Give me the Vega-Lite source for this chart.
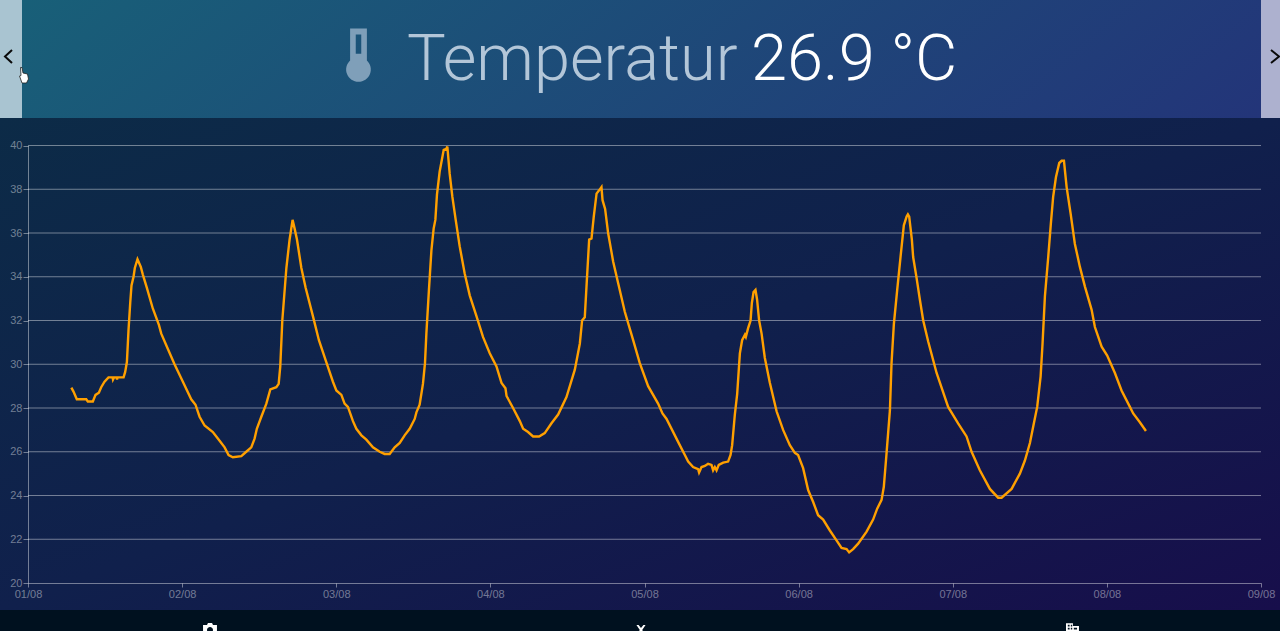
{
"$schema":"https://vega.github.io/schema/vega-lite/v6.json",
"padding":0,"background":"#00111f","autosize":{"type":"pad"},
"config":{"view":{"stroke":null},"font":"Liberation Sans"},
"spacing":0,"bounds":"flat",
"datasets":{"temps":[
{"time":"2018-08-01T06:45","t":28.93},{"time":"2018-08-01T07:05","t":28.75},{"time":"2018-08-01T07:36","t":28.4},{"time":"2018-08-01T09:04","t":28.4},{"time":"2018-08-01T09:19","t":28.3},{"time":"2018-08-01T10:06","t":28.3},{"time":"2018-08-01T10:31","t":28.6},{"time":"2018-08-01T11:02","t":28.7},{"time":"2018-08-01T11:24","t":28.95},{"time":"2018-08-01T11:55","t":29.2},{"time":"2018-08-01T12:32","t":29.4},{"time":"2018-08-01T13:10","t":29.4},{"time":"2018-08-01T13:14","t":29.3},{"time":"2018-08-01T13:24","t":29.4},{"time":"2018-08-01T13:47","t":29.4},{"time":"2018-08-01T13:52","t":29.3},{"time":"2018-08-01T13:56","t":29.4},{"time":"2018-08-01T14:53","t":29.4},{"time":"2018-08-01T15:08","t":29.65},{"time":"2018-08-01T15:24","t":30.1},{"time":"2018-08-01T15:39","t":31.55},{"time":"2018-08-01T15:55","t":32.8},{"time":"2018-08-01T16:07","t":33.6},{"time":"2018-08-01T16:26","t":34},{"time":"2018-08-01T16:38","t":34.4},{"time":"2018-08-01T17:03","t":34.8},{"time":"2018-08-01T17:34","t":34.45},{"time":"2018-08-01T17:53","t":34.1},{"time":"2018-08-01T18:30","t":33.5},{"time":"2018-08-01T19:26","t":32.55},{"time":"2018-08-01T20:23","t":31.8},{"time":"2018-08-01T20:45","t":31.4},{"time":"2018-08-01T21:47","t":30.7},{"time":"2018-08-01T22:49","t":30},
{"time":"2018-08-02T00:07","t":29.2},{"time":"2018-08-02T01:25","t":28.4},{"time":"2018-08-02T02:05","t":28.15},{"time":"2018-08-02T02:43","t":27.6},{"time":"2018-08-02T03:30","t":27.2},{"time":"2018-08-02T04:47","t":26.9},{"time":"2018-08-02T05:50","t":26.5},{"time":"2018-08-02T06:37","t":26.2},{"time":"2018-08-02T07:14","t":25.85},{"time":"2018-08-02T07:54","t":25.75},{"time":"2018-08-02T09:13","t":25.8},{"time":"2018-08-02T09:59","t":26},{"time":"2018-08-02T10:46","t":26.2},{"time":"2018-08-02T11:17","t":26.6},{"time":"2018-08-02T11:38","t":27.05},{"time":"2018-08-02T12:20","t":27.6},{"time":"2018-08-02T13:07","t":28.2},{"time":"2018-08-02T13:44","t":28.85},{"time":"2018-08-02T14:40","t":28.95},{"time":"2018-08-02T15:02","t":29.1},{"time":"2018-08-02T15:17","t":29.9},{"time":"2018-08-02T15:36","t":32},{"time":"2018-08-02T16:14","t":34.4},{"time":"2018-08-02T16:44","t":35.7},{"time":"2018-08-02T17:12","t":36.6},{"time":"2018-08-02T17:31","t":36.2},{"time":"2018-08-02T17:53","t":35.7},{"time":"2018-08-02T18:34","t":34.4},{"time":"2018-08-02T19:14","t":33.5},{"time":"2018-08-02T20:22","t":32.2},{"time":"2018-08-02T21:18","t":31.1},{"time":"2018-08-02T22:27","t":30.1},{"time":"2018-08-02T23:29","t":29.2},
{"time":"2018-08-03T00:01","t":28.8},{"time":"2018-08-03T00:48","t":28.6},{"time":"2018-08-03T01:18","t":28.2},{"time":"2018-08-03T01:49","t":28.05},{"time":"2018-08-03T02:36","t":27.4},{"time":"2018-08-03T03:08","t":27.05},{"time":"2018-08-03T03:55","t":26.75},{"time":"2018-08-03T04:41","t":26.55},{"time":"2018-08-03T05:43","t":26.2},{"time":"2018-08-03T06:46","t":26},{"time":"2018-08-03T07:32","t":25.9},{"time":"2018-08-03T08:19","t":25.9},{"time":"2018-08-03T09:06","t":26.2},{"time":"2018-08-03T09:53","t":26.4},{"time":"2018-08-03T10:39","t":26.75},{"time":"2018-08-03T11:26","t":27.05},{"time":"2018-08-03T12:13","t":27.5},{"time":"2018-08-03T12:29","t":27.8},{"time":"2018-08-03T12:59","t":28.15},{"time":"2018-08-03T13:30","t":29.1},{"time":"2018-08-03T13:49","t":30.05},{"time":"2018-08-03T14:02","t":31.4},{"time":"2018-08-03T14:26","t":33.4},{"time":"2018-08-03T14:49","t":35.2},{"time":"2018-08-03T15:10","t":36.2},{"time":"2018-08-03T15:26","t":36.6},{"time":"2018-08-03T15:41","t":37.75},{"time":"2018-08-03T16:06","t":38.8},{"time":"2018-08-03T16:44","t":39.8},{"time":"2018-08-03T17:09","t":39.85},{"time":"2018-08-03T17:18","t":39.95},{"time":"2018-08-03T17:40","t":38.7},{"time":"2018-08-03T18:05","t":37.65},{"time":"2018-08-03T18:36","t":36.6},{"time":"2018-08-03T19:13","t":35.4},{"time":"2018-08-03T20:00","t":34.15},{"time":"2018-08-03T20:47","t":33.15},{"time":"2018-08-03T21:50","t":32.2},{"time":"2018-08-03T22:51","t":31.25},{"time":"2018-08-03T23:54","t":30.5},
{"time":"2018-08-04T00:57","t":29.9},{"time":"2018-08-04T01:44","t":29.15},{"time":"2018-08-04T02:21","t":28.9},{"time":"2018-08-04T02:31","t":28.55},{"time":"2018-08-04T03:32","t":28},{"time":"2018-08-04T04:35","t":27.4},{"time":"2018-08-04T05:06","t":27.05},{"time":"2018-08-04T05:52","t":26.9},{"time":"2018-08-04T06:39","t":26.7},{"time":"2018-08-04T07:35","t":26.7},{"time":"2018-08-04T08:28","t":26.85},{"time":"2018-08-04T09:31","t":27.3},{"time":"2018-08-04T10:33","t":27.7},{"time":"2018-08-04T11:51","t":28.5},{"time":"2018-08-04T13:09","t":29.75},{"time":"2018-08-04T13:56","t":30.95},{"time":"2018-08-04T14:17","t":32},{"time":"2018-08-04T14:42","t":32.15},{"time":"2018-08-04T14:58","t":33.55},{"time":"2018-08-04T15:23","t":35.7},{"time":"2018-08-04T15:45","t":35.75},{"time":"2018-08-04T16:06","t":36.75},{"time":"2018-08-04T16:32","t":37.8},{"time":"2018-08-04T16:56","t":37.95},{"time":"2018-08-04T17:18","t":38.1},{"time":"2018-08-04T17:28","t":37.5},{"time":"2018-08-04T17:52","t":37.1},{"time":"2018-08-04T18:20","t":36},{"time":"2018-08-04T19:07","t":34.7},{"time":"2018-08-04T19:54","t":33.7},{"time":"2018-08-04T20:56","t":32.4},{"time":"2018-08-04T22:14","t":31.1},{"time":"2018-08-04T23:16","t":30.05},
{"time":"2018-08-05T00:34","t":29},{"time":"2018-08-05T02:07","t":28.2},{"time":"2018-08-05T02:48","t":27.75},{"time":"2018-08-05T03:26","t":27.5},{"time":"2018-08-05T05:14","t":26.45},{"time":"2018-08-05T06:17","t":25.85},{"time":"2018-08-05T06:48","t":25.55},{"time":"2018-08-05T07:34","t":25.3},{"time":"2018-08-05T08:21","t":25.2},{"time":"2018-08-05T08:30","t":25.05},{"time":"2018-08-05T08:53","t":25.3},{"time":"2018-08-05T09:24","t":25.35},{"time":"2018-08-05T09:54","t":25.45},{"time":"2018-08-05T10:26","t":25.4},{"time":"2018-08-05T10:41","t":25.15},{"time":"2018-08-05T10:57","t":25.3},{"time":"2018-08-05T11:13","t":25.15},{"time":"2018-08-05T11:34","t":25.4},{"time":"2018-08-05T12:15","t":25.5},{"time":"2018-08-05T13:01","t":25.55},{"time":"2018-08-05T13:24","t":25.85},{"time":"2018-08-05T13:39","t":26.3},{"time":"2018-08-05T14:04","t":27.7},{"time":"2018-08-05T14:26","t":28.65},{"time":"2018-08-05T14:51","t":30.5},{"time":"2018-08-05T15:12","t":31.1},{"time":"2018-08-05T15:38","t":31.35},{"time":"2018-08-05T15:47","t":31.25},{"time":"2018-08-05T16:08","t":31.65},{"time":"2018-08-05T16:31","t":32},{"time":"2018-08-05T16:43","t":32.8},{"time":"2018-08-05T16:59","t":33.3},{"time":"2018-08-05T17:17","t":33.4},{"time":"2018-08-05T17:32","t":32.95},{"time":"2018-08-05T17:51","t":32},{"time":"2018-08-05T18:14","t":31.4},{"time":"2018-08-05T18:44","t":30.3},{"time":"2018-08-05T19:31","t":29.15},{"time":"2018-08-05T20:34","t":27.85},{"time":"2018-08-05T21:35","t":27},{"time":"2018-08-05T22:38","t":26.3},{"time":"2018-08-05T23:25","t":25.95},{"time":"2018-08-05T23:55","t":25.85},
{"time":"2018-08-06T00:42","t":25.25},{"time":"2018-08-06T01:29","t":24.25},{"time":"2018-08-06T02:16","t":23.7},{"time":"2018-08-06T03:02","t":23.1},{"time":"2018-08-06T03:49","t":22.9},{"time":"2018-08-06T04:52","t":22.4},{"time":"2018-08-06T05:54","t":21.95},{"time":"2018-08-06T06:41","t":21.6},{"time":"2018-08-06T07:28","t":21.55},{"time":"2018-08-06T07:52","t":21.4},{"time":"2018-08-06T08:29","t":21.55},{"time":"2018-08-06T09:16","t":21.8},{"time":"2018-08-06T10:35","t":22.35},{"time":"2018-08-06T11:36","t":22.9},{"time":"2018-08-06T12:14","t":23.4},{"time":"2018-08-06T12:55","t":23.8},{"time":"2018-08-06T13:16","t":24.4},{"time":"2018-08-06T13:41","t":25.9},{"time":"2018-08-06T14:13","t":27.9},{"time":"2018-08-06T14:28","t":30.05},{"time":"2018-08-06T14:50","t":31.85},{"time":"2018-08-06T15:21","t":33.4},{"time":"2018-08-06T15:52","t":34.9},{"time":"2018-08-06T16:23","t":36.35},{"time":"2018-08-06T16:49","t":36.75},{"time":"2018-08-06T17:01","t":36.85},{"time":"2018-08-06T17:13","t":36.75},{"time":"2018-08-06T17:38","t":35.7},{"time":"2018-08-06T17:50","t":34.9},{"time":"2018-08-06T18:22","t":33.95},{"time":"2018-08-06T18:53","t":32.95},{"time":"2018-08-06T19:24","t":32},{"time":"2018-08-06T20:10","t":31.05},{"time":"2018-08-06T21:29","t":29.6},{"time":"2018-08-06T23:17","t":28.05},
{"time":"2018-08-07T00:50","t":27.3},{"time":"2018-08-07T02:09","t":26.7},{"time":"2018-08-07T02:56","t":26},{"time":"2018-08-07T04:13","t":25.15},{"time":"2018-08-07T05:47","t":24.3},{"time":"2018-08-07T07:04","t":23.9},{"time":"2018-08-07T07:36","t":23.9},{"time":"2018-08-07T09:10","t":24.3},{"time":"2018-08-07T10:27","t":25},{"time":"2018-08-07T11:14","t":25.6},{"time":"2018-08-07T12:01","t":26.4},{"time":"2018-08-07T12:38","t":27.3},{"time":"2018-08-07T13:09","t":28.05},{"time":"2018-08-07T13:41","t":29.45},{"time":"2018-08-07T13:59","t":30.95},{"time":"2018-08-07T14:21","t":33.1},{"time":"2018-08-07T14:52","t":34.9},{"time":"2018-08-07T15:17","t":36.45},{"time":"2018-08-07T15:38","t":37.65},{"time":"2018-08-07T16:04","t":38.55},{"time":"2018-08-07T16:35","t":39.2},{"time":"2018-08-07T16:57","t":39.3},{"time":"2018-08-07T17:19","t":39.3},{"time":"2018-08-07T17:44","t":38.1},{"time":"2018-08-07T18:21","t":36.9},{"time":"2018-08-07T19:01","t":35.5},{"time":"2018-08-07T19:48","t":34.45},{"time":"2018-08-07T20:35","t":33.55},{"time":"2018-08-07T21:37","t":32.5},{"time":"2018-08-07T22:08","t":31.7},{"time":"2018-08-07T23:11","t":30.8},
{"time":"2018-08-08T00:03","t":30.4},{"time":"2018-08-08T01:15","t":29.6},{"time":"2018-08-08T02:17","t":28.8},{"time":"2018-08-08T03:35","t":28.05},{"time":"2018-08-08T04:06","t":27.75},{"time":"2018-08-08T05:08","t":27.35},{"time":"2018-08-08T06:05","t":26.95}
]},
"vconcat":[
{"width":1280,"height":118,
 "view":{"stroke":null,"fill":{"gradient":"linear","x1":0,"y1":0,"x2":1.0976,"y2":0.122,"stops":[{"offset":0,"color":"#186078"},{"offset":1,"color":"#233479"}]}},
 "layer":[
  {"data":{"values":[{"item":"prev"}]},"mark":{"type":"rect","fill":"#a9c4d1"},
   "encoding":{"x":{"field":"item","type":"nominal","axis":null,"scale":{"type":"band","domain":["prev"],"range":[0,22],"padding":0}}}},
  {"data":{"values":[{"item":"next"}]},"mark":{"type":"rect","fill":"#adb1cf"},
   "encoding":{"x":{"field":"item","type":"nominal","axis":null,"scale":{"type":"band","domain":["next"],"range":[1261,1280],"padding":0}}}},
  {"data":{"values":[{"item":"prev"}]},
   "mark":{"type":"point","shape":"M0.1,-0.9 L-0.6,-0.25 L0.1,0.4","size":400,"filled":false,"stroke":"#0a0a0a","strokeWidth":2,"opacity":1},
   "encoding":{"x":{"field":"item","type":"nominal","axis":null,"scale":{"domain":["prev"],"range":[11,11],"padding":0}}}},
  {"data":{"values":[{"item":"next"}]},
   "mark":{"type":"point","clip":true,"shape":"M0.05,-0.9 L0.85,-0.25 L0.05,0.4","size":400,"filled":false,"stroke":"#0a0a0a","strokeWidth":2,"opacity":1},
   "encoding":{"x":{"field":"item","type":"nominal","axis":null,"scale":{"domain":["next"],"range":[1270.5,1270.5],"padding":0}}}},
  {"data":{"values":[{"item":"icon"}]},
   "mark":{"type":"point","shape":"M-0.305,-1 H0.305 V0.16 A0.448,0.448 0 1 1 -0.305,0.16 Z M-0.1,-0.78 V-0.08 H0.1 V-0.78 Z","size":3025,"filled":true,"fill":"#7f9fb9","stroke":null,"opacity":1},
   "encoding":{"x":{"field":"item","type":"nominal","axis":null,"scale":{"domain":["icon"],"range":[358.5,358.5],"padding":0}},
               "y":{"field":"item","type":"nominal","axis":null,"scale":{"domain":["icon"],"range":[56,56],"padding":0}}}},
  {"data":{"values":[{"item":"Temperatur"},{"item":"26.9 °C"}]},
   "mark":{"type":"text","font":"Roboto","fontWeight":300,"fontSize":65,"align":"left","baseline":"alphabetic"},
   "encoding":{"text":{"field":"item","type":"nominal"},
               "x":{"field":"item","type":"nominal","axis":null,"scale":{"domain":["Temperatur","26.9 °C"],"range":[407,751],"padding":0}},
               "y":{"field":"item","type":"nominal","axis":null,"scale":{"domain":["Temperatur","26.9 °C"],"range":[79.5,79.5],"padding":0}},
               "color":{"field":"item","type":"nominal","legend":null,"scale":{"domain":["Temperatur","26.9 °C"],"range":["#b3c6d8","#ffffff"]}}}},
  {"data":{"values":[{"item":"cursor"}]},
   "mark":{"type":"point","shape":"M-0.35,-0.75 L-0.2,-0.75 L-0.1,-0.2 L0.35,-0.1 L0.45,0.4 L0.25,0.8 L-0.2,0.8 L-0.45,0.1 L-0.3,0.05 Z","size":400,"filled":true,"fill":"#ffffff","stroke":"#222222","strokeWidth":0.8,"opacity":1},
   "encoding":{"x":{"field":"item","type":"nominal","axis":null,"scale":{"domain":["cursor"],"range":[24,24],"padding":0}},
               "y":{"field":"item","type":"nominal","axis":null,"scale":{"domain":["cursor"],"range":[75,75],"padding":0}}}}
 ],
 "resolve":{"scale":{"x":"independent","y":"independent","color":"independent"}}},
{"width":1280,"height":492,
 "view":{"stroke":null,"fill":{"gradient":"linear","x1":0,"y1":0,"x2":1,"y2":1,"stops":[{"offset":0,"color":"#0c2b47"},{"offset":0.5,"color":"#10204c"},{"offset":1,"color":"#170e4b"}]}},
 "layer":[
  {"data":{"values":[{"t":22},{"t":24},{"t":26},{"t":28},{"t":30},{"t":32},{"t":34},{"t":36},{"t":38},{"t":40}]},
   "mark":{"type":"rule","stroke":"#ffffff","strokeOpacity":0.42,"strokeWidth":1},
   "encoding":{"y":{"field":"t","type":"quantitative","scale":{"domain":[20,40],"range":[465,27.5],"nice":false,"zero":false},"axis":{"title":null,"orient":"left","offset":-28,"values":[20,22,24,26,28,30,32,34,36,38,40],"grid":false,"domainColor":"#ffffff","domainOpacity":0.42,"tickColor":"#ffffff","tickOpacity":0.42,"tickSize":5,"labelColor":"#ffffff","labelOpacity":0.42,"labelFontSize":11,"labelPadding":1,"labelFont":"Liberation Sans"}},
    "x":{"datum":{"year":2018,"month":8,"date":1},"type":"temporal","scale":{"domain":[{"year":2018,"month":8,"date":1},{"year":2018,"month":8,"date":9}],"range":[28,1261],"nice":false},"axis":{"title":null,"orient":"bottom","offset":-27,"grid":false,"format":"%d/%m","tickCount":{"interval":"day","step":1},"labelOverlap":false,"labelFlush":false,"domainColor":"#ffffff","domainOpacity":0.42,"tickColor":"#ffffff","tickOpacity":0.42,"tickSize":4,"labelColor":"#ffffff","labelOpacity":0.42,"labelFontSize":11,"labelPadding":1,"labelAngle":0,"labelFont":"Liberation Sans"}},
    "x2":{"datum":{"year":2018,"month":8,"date":9}}}},
  {"data":{"name":"temps"},
   "mark":{"type":"line","stroke":"#ffa000","strokeWidth":2.4,"interpolate":"linear"},
   "encoding":{"x":{"field":"time","type":"temporal"},"y":{"field":"t","type":"quantitative"}}}
 ]},
{"width":1280,"height":21,"view":{"fill":"#00111f","stroke":null},
 "data":{"values":[{"item":"camera"},{"item":"close"},{"item":"buildings"}]},
 "mark":{"type":"point","clip":true,"filled":true,"fill":"#ffffff","stroke":null,"size":576,"opacity":1},
 "encoding":{
  "x":{"field":"item","type":"nominal","axis":null,"scale":{"domain":["camera","close","buildings"],"range":[210,1072],"padding":0}},
  "y":{"field":"item","type":"nominal","axis":null,"scale":{"domain":["camera","close","buildings"],"range":[19,19],"padding":0}},
  "shape":{"field":"item","type":"nominal","legend":null,"scale":{"domain":["camera","close","buildings"],"range":[
   "M-0.58,-0.33 H-0.25 L-0.17,-0.5 H0.17 L0.25,-0.33 H0.58 V0.8 H-0.58 Z M-0.25,0.08 A0.25,0.25 0 1 0 0.25,0.08 A0.25,0.25 0 1 0 -0.25,0.08 Z",
   "M-0.38,-0.33 L-0.2,-0.33 L0,-0.08 L0.2,-0.33 L0.38,-0.33 L0.1,0.08 L0.38,0.5 L0.2,0.5 L0,0.24 L-0.2,0.5 L-0.38,0.5 L-0.1,0.08 Z",
   "M-0.5,-0.48 H0.08 V-0.25 H0.58 V1 H-0.5 Z M-0.35,-0.35 V-0.2 H-0.2 V-0.35 Z M-0.1,-0.35 V-0.2 H0.02 V-0.35 Z M-0.35,-0.1 V0.05 H-0.2 V-0.1 Z M-0.1,-0.1 V0.05 H0.02 V-0.1 Z M0.15,-0.1 V0.05 H0.42 V-0.1 Z"
  ]}}}}
]}
